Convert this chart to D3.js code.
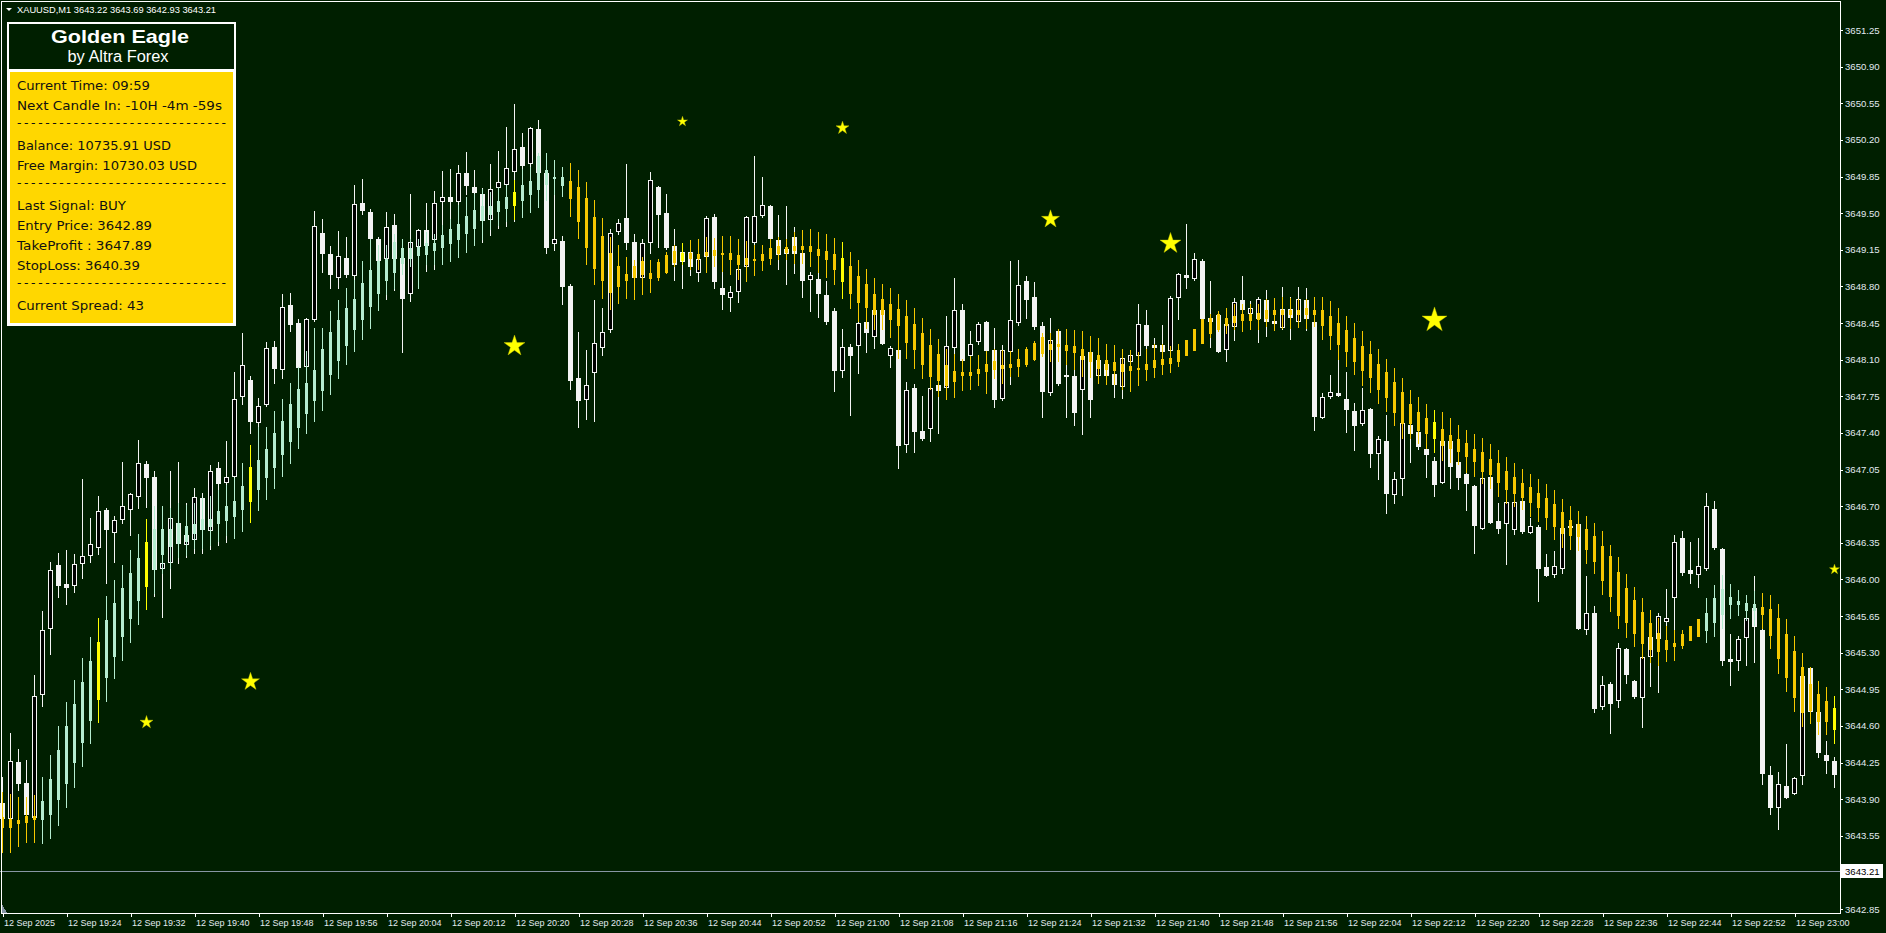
<!DOCTYPE html>
<html><head><meta charset="utf-8">
<script src="https://cdn.jsdelivr.net/npm/d3@7"></script>
<style>
html,body{margin:0;padding:0;background:#001f00;overflow:hidden}
svg{display:block}
</style></head><body>
<svg id="chart" width="1886" height="933"></svg>
<script>
// ---------------- DATA ----------------
const symbolName = "XAUUSD,M1";
const headerOHLC = [3643.22, 3643.69, 3642.93, 3643.21];
const currentPrice = 3643.21;

const mainOpen = [3643.86,3643.72,3644.25,3644.05,3643.73,3644.90,3645.54,3646.14,3645.96,3645.95,
3646.16,3646.23,3646.31,3646.66,3646.45,3646.58,3646.67,3646.80,3647.10,3646.98,
3646.11,3646.17,3646.54,3646.34,3646.39,3646.78,3646.47,3647.06,3646.93,3646.99,
3647.75,3647.91,3647.50,3647.68,3648.22,3648.01,3648.62,3648.45,3648.04,3648.49,
3649.31,3649.11,3648.89,3649.07,3648.91,3649.60,3649.51,3649.25,3649.07,3649.39,
3649.07,3648.74,3649.19,3649.34,3649.25,3649.62,3649.65,3649.62,3649.88,3649.75,
3649.68,3649.44,3649.75,3649.78,3649.90,3650.13,3649.98,3650.30,3649.88,3649.21,
3649.23,3648.80,3647.92,3647.72,3647.98,3648.22,3648.39,3649.33,3649.45,3649.22,
3648.89,3649.22,3649.75,3649.50,3649.19,3649.13,3649.13,3648.94,3649.09,3649.46,
3648.78,3648.70,3648.76,3648.99,3649.22,3649.48,3649.57,3649.24,3649.12,3649.27,
3649.12,3648.87,3648.87,3648.72,3648.56,3648.00,3648.22,3648.24,3648.46,3648.33,
3648.57,3648.14,3648.19,3647.29,3647.83,3647.42,3647.45,3647.86,3647.84,3648.22,
3648.57,3648.14,3648.28,3648.46,3648.19,3647.73,3648.18,3648.46,3648.85,3648.70,
3648.42,3647.79,3648.37,3647.95,3647.94,3647.82,3648.17,3647.95,3648.06,3647.96,
3647.85,3648.09,3648.14,3648.43,3648.24,3648.24,3648.19,3648.70,3648.91,3648.88,
3649.04,3648.50,3648.53,3648.20,3648.42,3648.67,3648.55,3648.50,3648.67,3648.47,
3648.41,3648.58,3648.47,3648.67,3648.46,3647.55,3647.75,3647.78,3647.72,3647.61,
3647.49,3647.63,3647.21,3647.32,3646.82,3646.97,3647.48,3647.41,3647.25,3647.13,
3646.93,3647.32,3647.12,3647.01,3646.89,3646.49,3646.98,3646.56,3646.54,3646.48,
3646.75,3646.45,3646.50,3646.12,3646.05,3646.11,3646.51,3646.53,3645.53,3645.68,
3644.79,3645.00,3644.85,3645.33,3645.03,3644.88,3645.27,3645.44,3645.60,3645.83,
3646.40,3646.09,3646.05,3646.11,3646.67,3646.29,3645.24,3645.23,3645.45,3645.73,
3645.52,3644.13,3643.82,3644.03,3643.96,3644.13,3645.15,3644.73,3644.32,3644.26];

const mainHigh = [3644.11,3644.53,3644.38,3644.27,3645.09,3645.70,3646.17,3646.25,3646.28,3646.24,
3646.96,3646.59,3646.80,3646.68,3646.61,3647.12,3646.83,3647.33,3647.13,3647.04,
3646.70,3647.04,3647.12,3646.73,3646.87,3646.83,3647.09,3647.12,3647.32,3647.98,
3648.35,3647.94,3647.73,3648.27,3648.28,3648.73,3648.74,3648.49,3648.50,3649.52,
3649.44,3649.19,3649.33,3649.27,3649.77,3649.83,3649.54,3649.27,3649.51,3649.49,
3649.20,3649.68,3649.35,3649.60,3649.71,3649.90,3649.92,3649.96,3650.08,3649.91,
3649.74,3649.97,3650.09,3650.32,3650.54,3650.27,3650.32,3650.39,3650.07,3650.01,
3649.28,3648.82,3648.36,3648.19,3648.67,3648.59,3649.35,3649.44,3649.97,3649.30,
3649.25,3649.89,3649.76,3649.68,3649.35,3649.20,3649.24,3649.25,3649.47,3649.49,
3648.94,3648.80,3649.25,3649.47,3650.05,3649.85,3649.58,3649.48,3649.57,3649.37,
3649.20,3648.94,3649.20,3648.85,3648.59,3648.39,3648.25,3648.49,3648.51,3648.59,
3648.68,3648.23,3648.23,3647.89,3647.87,3647.75,3647.85,3647.87,3648.52,3648.88,
3648.63,3648.37,3648.46,3648.47,3648.40,3648.24,3649.04,3649.05,3648.90,3648.84,
3648.46,3648.50,3648.39,3648.39,3648.00,3648.16,3648.32,3648.31,3648.25,3648.24,
3648.20,3648.18,3648.63,3648.57,3648.31,3648.43,3648.71,3648.93,3649.40,3649.12,
3649.06,3648.85,3648.55,3648.59,3648.69,3648.90,3648.66,3648.70,3648.77,3648.69,
3648.79,3648.70,3648.79,3648.78,3648.47,3647.78,3647.95,3648.11,3647.98,3647.69,
3647.83,3647.64,3647.37,3647.57,3647.03,3647.54,3647.52,3647.44,3647.30,3647.17,
3647.35,3647.35,3647.13,3647.02,3646.90,3647.01,3646.99,3646.73,3646.75,3646.75,
3646.76,3646.59,3646.52,3646.24,3646.27,3646.54,3646.53,3646.54,3646.03,3645.75,
3645.08,3645.02,3645.39,3645.34,3645.04,3645.28,3645.70,3645.68,3645.91,3646.42,
3646.46,3646.36,3646.40,3646.83,3646.75,3646.30,3645.48,3645.46,3645.64,3646.03,
3645.53,3644.22,3644.16,3644.43,3644.11,3645.16,3645.16,3644.74,3644.46,3644.30];

const mainLow = [3643.64,3643.57,3643.99,3643.70,3643.57,3644.79,3645.29,3645.83,3645.76,3645.88,
3646.01,3646.17,3646.24,3645.97,3646.17,3646.54,3646.42,3646.68,3646.69,3645.84,
3645.64,3645.92,3646.16,3646.21,3646.25,3646.25,3646.29,3646.33,3646.36,3646.94,
3647.68,3647.40,3647.32,3647.66,3647.88,3647.92,3648.37,3647.94,3647.99,3648.47,
3648.94,3648.78,3648.78,3648.89,3648.85,3649.49,3648.97,3648.99,3648.68,3648.77,
3648.17,3648.66,3649.16,3648.95,3648.97,3649.20,3649.39,3649.54,3649.68,3649.61,
3649.22,3649.29,3649.36,3649.38,3649.42,3649.73,3649.87,3649.87,3649.12,3649.15,
3648.63,3647.82,3647.46,3647.53,3647.51,3648.14,3648.36,3649.30,3649.16,3648.87,
3648.87,3649.12,3649.18,3649.16,3648.86,3648.78,3648.91,3648.85,3648.94,3648.78,
3648.58,3648.56,3648.65,3648.85,3649.20,3649.46,3649.20,3648.97,3648.82,3648.93,
3648.70,3648.56,3648.51,3648.44,3647.80,3647.93,3647.57,3647.97,3648.17,3648.21,
3648.25,3648.03,3647.06,3647.22,3647.22,3647.33,3647.32,3647.40,3647.82,3648.16,
3648.06,3648.11,3648.25,3647.78,3647.65,3647.71,3647.87,3648.43,3648.50,3648.39,
3647.55,3647.76,3647.86,3647.55,3647.48,3647.39,3647.55,3647.88,3647.87,3647.74,
3647.73,3648.06,3648.12,3648.20,3648.16,3648.16,3648.18,3648.49,3648.78,3648.86,
3648.49,3648.22,3648.17,3648.09,3648.29,3648.54,3648.54,3648.27,3648.33,3648.38,
3648.39,3648.30,3648.44,3648.38,3647.43,3647.54,3647.73,3647.75,3647.41,3647.24,
3647.48,3647.07,3646.96,3646.63,3646.73,3646.81,3647.12,3647.25,3646.98,3646.80,
3646.92,3646.87,3646.86,3646.66,3646.25,3646.48,3646.54,3646.44,3646.15,3646.43,
3646.44,3646.44,3645.79,3646.03,3646.02,3646.06,3646.48,3645.53,3645.48,3644.73,
3644.76,3644.53,3644.78,3645.01,3644.87,3644.59,3644.98,3644.92,3645.45,3645.49,
3646.04,3645.97,3645.93,3646.09,3646.29,3645.18,3644.99,3645.13,3645.18,3645.21,
3644.04,3643.76,3643.61,3643.91,3643.95,3644.04,3644.64,3644.30,3644.15,3644.02];

const mainClose = [3643.72,3644.26,3644.05,3643.76,3644.89,3645.52,3646.09,3645.95,3645.93,3646.15,
3646.22,3646.34,3646.65,3646.48,3646.57,3646.70,3646.82,3647.11,3646.98,3646.10,
3646.16,3646.59,3646.35,3646.42,3646.79,3646.48,3647.04,3646.92,3646.98,3647.72,
3648.05,3647.51,3647.66,3648.21,3648.02,3648.60,3648.44,3648.03,3648.49,3649.38,
3649.12,3648.92,3649.09,3648.92,3649.59,3649.53,3649.26,3649.05,3649.37,3649.07,
3648.69,3649.22,3649.34,3649.20,3649.60,3649.65,3649.62,3649.88,3649.77,3649.70,
3649.43,3649.73,3649.80,3649.93,3650.11,3649.96,3650.31,3649.89,3649.18,3649.25,
3648.80,3647.91,3647.71,3647.86,3648.26,3648.36,3649.31,3649.41,3649.22,3648.89,
3649.21,3649.82,3649.49,3649.18,3649.01,3649.04,3648.99,3649.06,3649.45,3648.85,
3648.73,3648.75,3648.97,3649.46,3649.47,3649.58,3649.26,3649.11,3649.16,3649.12,
3648.86,3648.91,3648.74,3648.47,3648.00,3648.22,3648.14,3648.45,3648.36,3648.57,
3648.26,3648.21,3647.28,3647.81,3647.42,3647.35,3647.83,3647.81,3648.23,3648.57,
3648.10,3648.25,3648.44,3648.19,3647.72,3648.19,3648.48,3648.81,3648.68,3648.42,
3647.80,3648.29,3647.88,3647.94,3647.60,3648.13,3647.72,3648.10,3647.95,3647.87,
3648.12,3648.14,3648.44,3648.24,3648.22,3648.18,3648.69,3648.92,3648.89,3649.06,
3648.50,3648.47,3648.18,3648.44,3648.65,3648.58,3648.59,3648.68,3648.47,3648.45,
3648.58,3648.51,3648.68,3648.50,3647.56,3647.74,3647.79,3647.76,3647.63,3647.48,
3647.62,3647.21,3647.34,3646.83,3646.96,3647.49,3647.40,3647.27,3647.20,3646.91,
3647.32,3647.08,3646.98,3646.92,3646.52,3646.97,3646.55,3646.49,3646.74,3646.74,
3646.46,3646.51,3646.11,3646.04,3646.13,3646.49,3646.50,3645.54,3645.68,3644.77,
3644.99,3644.82,3645.34,3645.10,3644.89,3645.26,3645.45,3645.65,3645.63,3646.36,
3646.07,3646.06,3646.13,3646.70,3646.31,3645.23,3645.22,3645.43,3645.63,3645.55,
3644.15,3643.82,3644.04,3643.92,3644.10,3645.08,3644.74,3644.35,3644.27,3644.14];

// Golden Eagle smoothed (Heiken-Ashi style) candles
const haOpen = [3643.73,3643.71,3643.70,3643.74,3643.74,3643.71,3643.76,3643.90,3644.05,3644.25,
3644.45,3644.66,3644.86,3645.07,3645.27,3645.46,3645.63,3645.80,3645.94,3646.10,
3646.24,3646.32,3646.35,3646.37,3646.44,3646.48,3646.51,3646.54,3646.57,3646.61,
3646.67,3646.75,3646.86,3646.98,3647.07,3647.20,3647.32,3647.46,3647.59,3647.71,
3647.81,3647.96,3648.10,3648.24,3648.39,3648.49,3648.61,3648.74,3648.86,3648.94,
3649.02,3649.07,3649.10,3649.11,3649.15,3649.18,3649.21,3649.25,3649.31,3649.36,
3649.43,3649.49,3649.52,3649.55,3649.58,3649.63,3649.68,3649.73,3649.78,3649.84,
3649.77,3649.81,3649.75,3649.64,3649.46,3649.28,3649.12,3648.99,3648.92,3648.99,
3649.04,3648.93,3649.03,3649.10,3649.14,3649.12,3649.12,3649.11,3649.13,3649.15,
3649.12,3649.12,3649.10,3649.07,3649.06,3649.11,3649.17,3649.19,3649.18,3649.19,
3649.19,3649.19,3649.16,3649.14,3649.11,3649.07,3648.99,3648.90,3648.82,3648.73,
3648.68,3648.63,3648.58,3648.52,3648.44,3648.35,3648.24,3648.15,3648.05,3647.99,
3647.98,3647.98,3648.01,3648.06,3648.09,3648.05,3648.06,3648.11,3648.20,3648.26,
3648.32,3648.25,3648.25,3648.24,3648.23,3648.20,3648.17,3648.14,3648.10,3648.08,
3648.06,3648.04,3648.02,3648.06,3648.10,3648.11,3648.12,3648.19,3648.29,3648.39,
3648.49,3648.50,3648.54,3648.50,3648.52,3648.54,3648.54,3648.55,3648.57,3648.57,
3648.57,3648.57,3648.57,3648.59,3648.57,3648.57,3648.52,3648.45,3648.38,3648.31,
3648.23,3648.15,3648.06,3647.98,3647.89,3647.79,3647.68,3647.60,3647.54,3647.50,
3647.44,3647.38,3647.34,3647.30,3647.25,3647.22,3647.15,3647.11,3647.04,3646.98,
3646.92,3646.88,3646.83,3646.78,3646.72,3646.64,3646.57,3646.53,3646.48,3646.41,
3646.32,3646.22,3646.07,3645.92,3645.80,3645.69,3645.58,3645.49,3645.42,3645.39,
3645.48,3645.55,3645.62,3645.52,3645.59,3645.67,3645.76,3645.76,3645.71,3645.71,
3645.74,3645.72,3645.63,3645.48,3645.32,3645.16,3645.00,3644.90,3644.84,3644.77];

const haClose = [3643.63,3643.63,3643.67,3643.68,3643.71,3643.88,3644.09,3644.37,3644.60,3644.81,
3645.02,3645.22,3645.40,3645.61,3645.77,3645.92,3646.06,3646.20,3646.36,3646.48,
3646.48,3646.48,3646.54,3646.51,3646.53,3646.58,3646.58,3646.65,3646.70,3646.75,
3646.89,3647.07,3647.14,3647.25,3647.40,3647.51,3647.68,3647.82,3647.88,3648.00,
3648.20,3648.36,3648.48,3648.59,3648.68,3648.83,3648.96,3649.04,3649.06,3649.22,
3649.17,3649.17,3649.18,3649.21,3649.21,3649.29,3649.35,3649.40,3649.47,3649.53,
3649.57,3649.57,3649.62,3649.65,3649.70,3649.77,3649.81,3650.05,3649.91,3649.85,
3649.85,3649.64,3649.42,3649.18,3648.98,3648.86,3648.75,3648.80,3648.86,3648.89,
3648.92,3648.88,3648.89,3648.94,3649.03,3649.05,3649.07,3649.07,3649.10,3649.10,
3649.11,3649.06,3649.01,3649.01,3649.05,3649.05,3649.07,3649.12,3649.13,3649.15,
3649.16,3649.14,3649.10,3649.06,3648.97,3648.85,3648.74,3648.65,3648.60,3648.54,
3648.54,3648.49,3648.43,3648.27,3648.20,3648.06,3647.94,3647.91,3647.86,3647.90,
3647.95,3647.95,3647.97,3647.99,3648.01,3648.02,3648.03,3648.04,3648.06,3648.11,
3648.16,3648.20,3648.23,3648.19,3648.17,3648.11,3648.09,3648.02,3648.01,3648.00,
3647.99,3648.00,3648.01,3648.01,3648.03,3648.06,3648.07,3648.09,3648.14,3648.19,
3648.26,3648.35,3648.39,3648.43,3648.46,3648.48,3648.48,3648.49,3648.50,3648.54,
3648.54,3648.54,3648.54,3648.54,3648.54,3648.43,3648.34,3648.25,3648.18,3648.09,
3648.00,3647.93,3647.82,3647.74,3647.60,3647.49,3647.49,3647.43,3647.40,3647.35,
3647.28,3647.26,3647.23,3647.18,3647.13,3647.04,3647.01,3646.93,3646.86,3646.83,
3646.79,3646.74,3646.69,3646.60,3646.51,3646.44,3646.42,3646.41,3646.29,3646.18,
3645.99,3645.84,3645.66,3645.59,3645.49,3645.39,3645.33,3645.32,3645.33,3645.36,
3645.37,3645.42,3645.46,3645.68,3645.82,3645.91,3645.83,3645.79,3645.77,3645.76,
3645.67,3645.47,3645.25,3645.07,3644.88,3644.73,3644.75,3644.65,3644.65,3644.57];

const haHigh = [3643.97,3643.95,3643.92,3643.92,3643.94,3644.11,3644.32,3644.60,3644.83,3645.04,
3645.25,3645.45,3645.63,3645.84,3645.99,3646.14,3646.28,3646.43,3646.58,3646.70,
3646.70,3646.68,3646.73,3646.71,3646.73,3646.78,3646.80,3646.85,3646.90,3646.97,
3647.11,3647.28,3647.46,3647.46,3647.61,3647.72,3647.88,3648.03,3648.18,3648.40,
3648.40,3648.56,3648.67,3648.78,3648.86,3649.04,3649.25,3649.20,3649.20,3649.30,
3649.25,3649.25,3649.25,3649.32,3649.30,3649.39,3649.44,3649.58,3649.65,3649.68,
3649.73,3649.70,3649.75,3649.77,3649.82,3649.92,3649.94,3650.07,3650.07,3650.01,
3649.94,3649.98,3649.91,3649.80,3649.63,3649.45,3649.27,3649.20,3649.08,3649.05,
3649.08,3649.05,3649.06,3649.13,3649.20,3649.21,3649.24,3649.25,3649.27,3649.26,
3649.28,3649.28,3649.25,3649.23,3649.20,3649.20,3649.25,3649.27,3649.25,3649.32,
3649.34,3649.35,3649.32,3649.30,3649.26,3649.22,3649.13,3649.05,3648.97,3648.88,
3648.82,3648.78,3648.73,3648.67,3648.59,3648.50,3648.39,3648.30,3648.20,3648.15,
3648.11,3648.13,3648.14,3648.18,3648.20,3648.19,3648.18,3648.20,3648.22,3648.28,
3648.35,3648.35,3648.39,3648.39,3648.38,3648.37,3648.33,3648.31,3648.25,3648.24,
3648.20,3648.19,3648.17,3648.20,3648.25,3648.25,3648.23,3648.25,3648.29,3648.39,
3648.49,3648.54,3648.56,3648.59,3648.63,3648.63,3648.63,3648.63,3648.68,3648.69,
3648.70,3648.69,3648.68,3648.68,3648.70,3648.70,3648.66,3648.59,3648.52,3648.45,
3648.37,3648.28,3648.20,3648.11,3648.02,3647.92,3647.81,3647.74,3647.68,3647.62,
3647.60,3647.54,3647.48,3647.43,3647.39,3647.35,3647.29,3647.24,3647.17,3647.11,
3647.05,3647.01,3646.96,3646.91,3646.85,3646.77,3646.70,3646.65,3646.61,3646.54,
3646.46,3646.33,3646.21,3646.05,3645.93,3645.82,3645.71,3645.63,3645.55,3645.52,
3645.52,3645.55,3645.62,3645.82,3645.95,3646.04,3645.96,3645.90,3645.85,3645.89,
3645.87,3645.85,3645.76,3645.62,3645.46,3645.30,3645.16,3645.03,3644.97,3644.89];

const haLow = [3643.39,3643.39,3643.45,3643.49,3643.49,3643.48,3643.53,3643.65,3643.82,3644.02,
3644.22,3644.44,3644.64,3644.84,3645.06,3645.23,3645.40,3645.57,3645.72,3645.87,
3646.06,3646.11,3646.21,3646.23,3646.30,3646.30,3646.33,3646.37,3646.42,3646.40,
3646.46,3646.55,3646.66,3646.77,3646.87,3646.99,3647.11,3647.26,3647.40,3647.51,
3647.62,3647.77,3647.92,3648.06,3648.18,3648.30,3648.40,3648.57,3648.73,3648.78,
3648.92,3648.99,3648.78,3649.01,3649.01,3649.01,3649.04,3649.08,3649.13,3649.20,
3649.25,3649.35,3649.39,3649.42,3649.44,3649.46,3649.51,3649.56,3649.63,3649.68,
3649.66,3649.47,3649.26,3649.01,3648.82,3648.69,3648.58,3648.64,3648.69,3648.68,
3648.73,3648.75,3648.86,3648.93,3648.99,3649.01,3648.97,3648.97,3648.94,3648.99,
3648.95,3648.92,3648.87,3648.85,3648.91,3648.96,3649.01,3649.06,3649.06,3649.02,
3649.02,3648.99,3648.94,3648.89,3648.82,3648.69,3648.59,3648.47,3648.40,3648.39,
3648.39,3648.32,3648.12,3648.12,3648.02,3647.92,3647.82,3647.75,3647.72,3647.74,
3647.81,3647.82,3647.86,3647.78,3647.92,3647.88,3647.94,3647.94,3648.04,3648.10,
3648.13,3648.09,3648.09,3648.06,3648.01,3647.94,3647.93,3647.88,3647.87,3647.87,
3647.82,3647.80,3647.86,3647.91,3647.93,3647.96,3647.98,3648.04,3648.14,3648.19,
3648.26,3648.32,3648.37,3648.35,3648.39,3648.37,3648.39,3648.39,3648.42,3648.38,
3648.40,3648.40,3648.41,3648.40,3648.42,3648.30,3648.20,3648.11,3648.04,3647.96,
3647.86,3647.79,3647.69,3647.61,3647.48,3647.35,3647.35,3647.30,3647.26,3647.22,
3647.14,3647.12,3647.10,3647.03,3646.99,3646.92,3646.87,3646.80,3646.73,3646.70,
3646.67,3646.61,3646.56,3646.48,3646.39,3646.31,3646.29,3646.28,3646.16,3646.06,
3645.86,3645.70,3645.54,3645.45,3645.36,3645.25,3645.21,3645.18,3645.22,3645.23,
3645.34,3645.42,3645.46,3645.40,3645.46,3645.54,3645.63,3645.66,3645.61,3645.56,
3645.54,3645.34,3645.11,3644.93,3644.74,3644.60,3644.63,3644.52,3644.52,3644.44];

// bars where the indicator paints its signal (bright yellow) candle
const signalBars = [12, 18, 31, 64, 85, 105, 179, 229];

// star markers
const starBar   = [18, 31, 64, 85, 105, 131, 146, 179, 229];
const starPrice = [3644.64, 3645.03, 3648.24, 3650.38, 3650.32, 3649.45, 3649.22, 3648.49, 3646.10];
const starLevel = [2, 3, 4, 1, 2, 3, 4, 5, 1];

// axis ticks
const yTicks = [3651.25,3650.90,3650.55,3650.20,3649.85,3649.50,3649.15,3648.80,3648.45,3648.10,
3647.75,3647.40,3647.05,3646.70,3646.35,3646.00,3645.65,3645.30,3644.95,3644.60,
3644.25,3643.90,3643.55,3643.20,3642.85];
const xTickBars = [0,8,16,24,32,40,48,56,64,72,80,88,96,104,112,120,128,136,144,152,160,168,176,184,192,200,208,216,224];
const xTickLabels = ["12 Sep 2025","12 Sep 19:24","12 Sep 19:32","12 Sep 19:40","12 Sep 19:48","12 Sep 19:56",
"12 Sep 20:04","12 Sep 20:12","12 Sep 20:20","12 Sep 20:28","12 Sep 20:36","12 Sep 20:44","12 Sep 20:52",
"12 Sep 21:00","12 Sep 21:08","12 Sep 21:16","12 Sep 21:24","12 Sep 21:32","12 Sep 21:40","12 Sep 21:48",
"12 Sep 21:56","12 Sep 22:04","12 Sep 22:12","12 Sep 22:20","12 Sep 22:28","12 Sep 22:36","12 Sep 22:44",
"12 Sep 22:52","12 Sep 23:00"];

// info panel
const panelTitle = "Golden Eagle";
const panelSubtitle = "by Altra Forex";
const panelLines = ["Current Time: 09:59","Next Candle In: -10H -4m -59s","-",
"Balance: 10735.91 USD","Free Margin: 10730.03 USD","-",
"Last Signal: BUY","Entry Price: 3642.89","TakeProfit : 3647.89","StopLoss: 3640.39","-",
"Current Spread: 43"];

// ---------------- DRAW ----------------
const W = 1886, H = 933;
const BG = "#001f00";
const svg = d3.select("#chart");
svg.append("rect").attr("width", W).attr("height", H).attr("fill", BG);

const nBars = mainOpen.length;
const x = d3.scaleLinear().domain([0, nBars - 1]).range([2.5, 2.5 + (nBars - 1) * 8]);
const y = d3.scaleLinear().domain([3642.85, 3651.25]).range([909, 30]);

const bars = d3.range(nBars).map(i => ({
  i, o: mainOpen[i], h: mainHigh[i], l: mainLow[i], c: mainClose[i],
  ho: haOpen[i], hh: haHigh[i], hl: haLow[i], hc: haClose[i],
  sig: signalBars.includes(i)
}));

const plot = svg.append("g");

// current price line
plot.append("line")
  .attr("x1", 0).attr("x2", 1840)
  .attr("y1", Math.round(y(currentPrice)) + 0.5).attr("y2", Math.round(y(currentPrice)) + 0.5)
  .attr("stroke", "#8796a4").attr("stroke-width", 1);

// main candles: wicks
const gMain = plot.append("g").attr("shape-rendering", "crispEdges");
gMain.selectAll("line").data(bars).join("line")
  .attr("x1", d => x(d.i)).attr("x2", d => x(d.i))
  .attr("y1", d => Math.round(y(d.h))).attr("y2", d => Math.round(y(d.l)) + 1)
  .attr("stroke", "#f4f4f4").attr("stroke-width", 1);

// main candles: bodies
gMain.selectAll("rect").data(bars).join("rect")
  .each(function(d) {
    const top = Math.round(y(Math.max(d.o, d.c)));
    const bot = Math.round(y(Math.min(d.o, d.c)));
    const s = d3.select(this);
    if (d.c > d.o && bot - top >= 2) {
      s.attr("x", x(d.i) - 2).attr("y", top + 0.5).attr("width", 4).attr("height", bot - top)
       .attr("fill", "#000").attr("stroke", "#f4f4f4").attr("stroke-width", 1);
    } else {
      s.attr("x", x(d.i) - 2.5).attr("y", top).attr("width", 5).attr("height", Math.max(1, bot - top + 1))
       .attr("fill", "#f4f4f4");
    }
  });

// indicator candles
const MINT = "#b5ecd0", GOLD = "#f6c800", SIG = "#ffff00";
const colorOf = d => d.sig ? SIG : (d.hc > d.ho ? MINT : GOLD);
const gHA = plot.append("g").attr("shape-rendering", "crispEdges");
gHA.selectAll("line").data(bars).join("line")
  .attr("x1", d => x(d.i)).attr("x2", d => x(d.i))
  .attr("y1", d => Math.round(y(d.hh))).attr("y2", d => Math.round(y(d.hl)) + 1)
  .attr("stroke", colorOf).attr("stroke-width", 1);
gHA.selectAll("rect").data(bars).join("rect")
  .attr("x", d => x(d.i) - 1.5).attr("width", 3)
  .attr("y", d => Math.round(y(Math.max(d.ho, d.hc))))
  .attr("height", d => Math.max(1, Math.round(y(Math.min(d.ho, d.hc))) - Math.round(y(Math.max(d.ho, d.hc))) + 1))
  .attr("fill", colorOf);

// stars
const starWidth = [0, 10, 13, 18, 21, 25];
const stars = starBar.map((b, k) => ({ b, p: starPrice[k], w: starWidth[starLevel[k]] }));
plot.selectAll("path.star").data(stars).join("path")
  .attr("class", "star")
  .attr("d", d => {
    const r = d.w / 1.902;
    return d3.symbol(d3.symbolStar, r * r / 0.8908130915292852)();
  })
  .attr("transform", d => `translate(${x(d.b)},${y(d.p) + 0.0955 * d.w / 1.902})`)
  .attr("fill", "#ffff00").attr("stroke", "#c8c800").attr("stroke-width", 0.4);

// frame
const frame = svg.append("g").attr("shape-rendering", "crispEdges");
frame.append("line").attr("x1", 1).attr("x2", 1841).attr("y1", 1.5).attr("y2", 1.5).attr("stroke", "#fff");
frame.append("line").attr("x1", 1.5).attr("x2", 1.5).attr("y1", 1).attr("y2", 914).attr("stroke", "#fff");
frame.append("line").attr("x1", 1840.5).attr("x2", 1840.5).attr("y1", 1).attr("y2", 914).attr("stroke", "#fff");
frame.append("line").attr("x1", 1).attr("x2", 1841).attr("y1", 913.5).attr("y2", 913.5).attr("stroke", "#fff");
frame.append("path").attr("d", "M2,904L2,913L7,913Z").attr("fill", "#8796a4");

const AXFONT = '9px "Liberation Sans", Arial, sans-serif';
const YFONT = '9.6px "Liberation Sans", Arial, sans-serif';
const AXCOL = "#e2eaf1";

// right axis
const yAxis = d3.axisRight(y).tickValues(yTicks).tickSize(3).tickPadding(2).tickFormat(d3.format(".2f"));
const gy = svg.append("g").attr("transform", "translate(1840,0)").call(yAxis);
gy.select(".domain").remove();
gy.selectAll(".tick line").attr("stroke", "#fff").attr("shape-rendering", "crispEdges");
gy.selectAll(".tick text").attr("fill", AXCOL).style("font", YFONT);

// current price label box
const cpY = y(currentPrice);
svg.append("rect").attr("x", 1841).attr("y", Math.round(cpY) - 7).attr("width", 42).attr("height", 14).attr("fill", "#fff");
svg.append("text").attr("x", 1845).attr("y", cpY).attr("dy", "0.35em")
  .attr("fill", "#000").style("font", YFONT).text(d3.format(".2f")(currentPrice));

// bottom axis
const xAxis = d3.axisBottom(x).tickValues(xTickBars).tickSize(4).tickPadding(3)
  .tickFormat((d, i) => xTickLabels[i]);
const gx = svg.append("g").attr("transform", "translate(0,913)").call(xAxis);
gx.select(".domain").remove();
gx.selectAll(".tick line").attr("stroke", "#fff").attr("shape-rendering", "crispEdges");
gx.selectAll(".tick text").attr("fill", AXCOL).style("font", AXFONT)
  .attr("text-anchor", "start").attr("x", 1);

// header
const hdr = svg.append("g");
hdr.append("path").attr("d", "M6,8L12,8L9,11Z").attr("fill", "#fff");
hdr.append("text").attr("x", 17).attr("y", 12.5).attr("fill", "#fff")
  .style("font", '9.3px "Liberation Sans", Arial, sans-serif')
  .text(symbolName + "  " + headerOHLC.map(d3.format(".2f")).join(" "));

// info panel
const panel = svg.append("g").attr("shape-rendering", "crispEdges");
panel.append("rect").attr("x", 7).attr("y", 22).attr("width", 229).attr("height", 304).attr("fill", "#fff");
panel.append("rect").attr("x", 9).attr("y", 24).attr("width", 225).attr("height", 45).attr("fill", BG);
panel.append("rect").attr("x", 10).attr("y", 72).attr("width", 223).attr("height", 251).attr("fill", "#ffd700");
const ptxt = svg.append("g");
ptxt.append("text").attr("x", 120).attr("y", 43).attr("text-anchor", "middle")
  .attr("fill", "#fff").style("font", 'bold 19px "Liberation Sans", Arial, sans-serif')
  .attr("textLength", 138).attr("lengthAdjust", "spacingAndGlyphs").text(panelTitle);
ptxt.append("text").attr("x", 118).attr("y", 62).attr("text-anchor", "middle")
  .attr("fill", "#fff").style("font", '16px "Liberation Sans", Arial, sans-serif')
  .attr("textLength", 101).attr("lengthAdjust", "spacingAndGlyphs").text(panelSubtitle);

const lineWidths = {"Current Time: 09:59":133, "Next Candle In: -10H -4m -59s":205, "Balance: 10735.91 USD":154,
  "Free Margin: 10730.03 USD":180, "Last Signal: BUY":109, "Entry Price: 3642.89":135,
  "TakeProfit : 3647.89":135, "StopLoss: 3640.39":123, "Current Spread: 43":127};
panelLines.forEach((t, k) => {
  const base = 90 + k * 20;
  const el = ptxt.append("text").attr("x", 17).attr("fill", "#111")
    .style("font", '12.4px "DejaVu Sans", Verdana, sans-serif');
  if (t === "-") {
    el.attr("y", base - 3).text("-".repeat(30)).attr("textLength", 209).attr("lengthAdjust", "spacing");
  } else {
    el.attr("y", base).text(t);
    if (lineWidths[t]) el.attr("textLength", lineWidths[t]).attr("lengthAdjust", "spacingAndGlyphs");
  }
});
</script>
</body></html>
